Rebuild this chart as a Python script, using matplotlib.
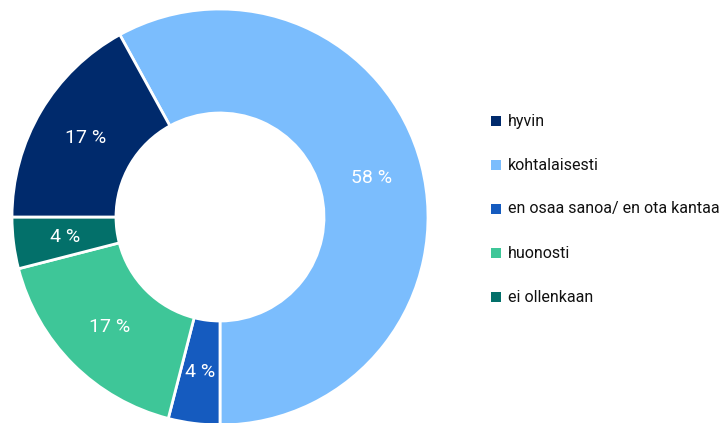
import matplotlib
import matplotlib.pyplot as plt
from matplotlib.patches import Rectangle

matplotlib.use('agg')
plt.rcParams['font.family'] = ['Roboto', 'DejaVu Sans']

categories = ["hyvin", "kohtalaisesti", "en osaa sanoa/ en ota kantaa", "huonosti", "ei ollenkaan"]
values = [17, 58, 4, 17, 4]
colors = ["#002a6c", "#7bbdfd", "#155bbf", "#3ec698", "#03706a"]

# pie order clockwise starting from kohtalaisesti
pie_order = [1, 2, 3, 4, 0]

W, H = 722, 423
fig = plt.figure(figsize=(W / 100, H / 100), dpi=100)
ax = fig.add_axes([12 / W, -2 / H, 416 / W, 416 / H])

total = sum(values)
start = -90 + 360 * values[1] / total
wedges, texts = ax.pie(
    [values[i] for i in pie_order],
    colors=[colors[i] for i in pie_order],
    labels=[f"{values[i]} %" for i in pie_order],
    labeldistance=0.75,
    startangle=start,
    counterclock=False,
    radius=1.0,
    wedgeprops=dict(width=0.5, edgecolor="white", linewidth=2),
    textprops=dict(color="white", fontsize=14),
)
for t in texts:
    t.set_horizontalalignment("center")
    t.set_verticalalignment("center")
ax.set_xlim(-1, 1)
ax.set_ylim(-1, 1)
ax.set_aspect("equal")

# legend drawn by hand so the rows sit where the reference has them
row_y = 121
for cat, col in zip(categories, colors):
    fig.patches.append(Rectangle((491 / W, 1 - (row_y + 5) / H), 10 / W, 10 / H,
                                 facecolor=col, edgecolor="none",
                                 transform=fig.transFigure, figure=fig))
    fig.text(508 / W, 1 - row_y / H, cat, fontsize=11.5, color="#111111",
             ha="left", va="center")
    row_y += 44

fig.savefig("out.png", dpi=100)
